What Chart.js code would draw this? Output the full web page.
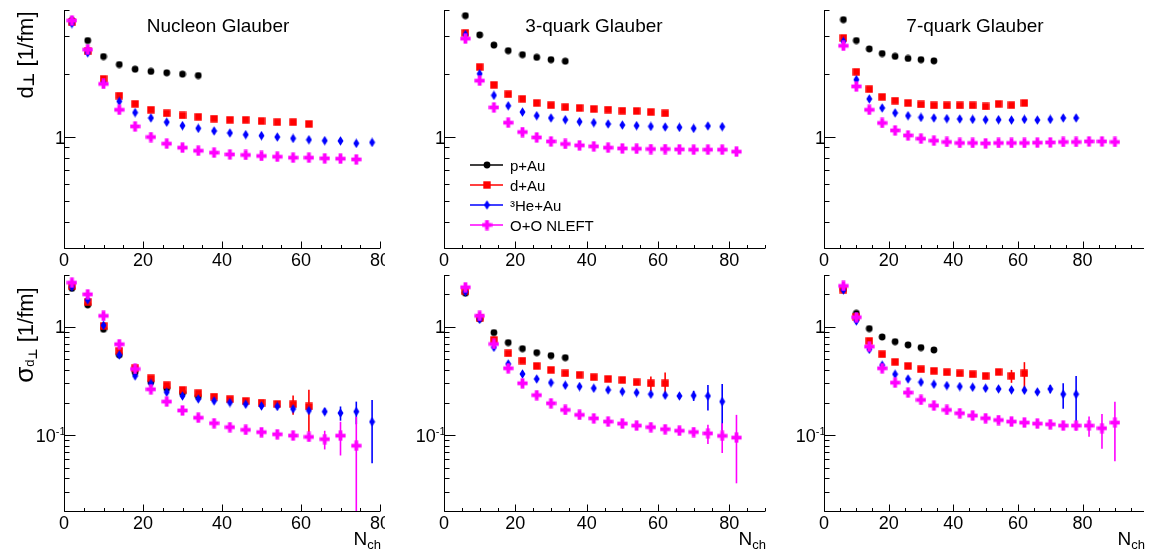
<!DOCTYPE html>
<html><head><meta charset="utf-8">
<script src="https://cdn.jsdelivr.net/npm/chart.js@4/dist/chart.umd.min.js"></script>
<style>
html,body{margin:0;padding:0;background:#fff;}
body{width:1149px;height:550px;position:relative;overflow:hidden;}
.pw{position:absolute;background:#fff;}
.pw canvas{display:block;}
</style></head><body>
<div class="pw" style="left:0px;top:0px;"><canvas id="c1" width="385" height="267"></canvas></div>
<div class="pw" style="left:385px;top:0px;"><canvas id="c2" width="385" height="267"></canvas></div>
<div class="pw" style="left:770px;top:0px;"><canvas id="c3" width="379" height="267"></canvas></div>
<div class="pw" style="left:0px;top:267px;"><canvas id="c4" width="385" height="283"></canvas></div>
<div class="pw" style="left:385px;top:267px;"><canvas id="c5" width="385" height="283"></canvas></div>
<div class="pw" style="left:770px;top:267px;"><canvas id="c6" width="379" height="283"></canvas></div>
<script>
// ---------------- data ----------------
const seriesNames = ['p+Au', 'd+Au', '\u00B3He+Au', 'O+O NLEFT'];
const seriesColors = ['#000000', '#ff0000', '#0000ff', '#ff00ff'];
const panelTitles = ['Nucleon Glauber', '3-quark Glauber', '7-quark Glauber'];
const xTickValues = [0, 20, 40, 60, 80];
const xTickLabels = ['0', '20', '40', '60', '80'];
const xAxisMax = [80, 90, 99];
const topYRange = [0.3, 4];
const bottomYRange = [0.02, 3];
const topYTickValues = [1];
const topYTickLabels = ['1'];
const bottomYTickValues = [1, 0.1];
const bottomYTickLabels = ['1', '10^{-1}'];

// N_ch bin centres
const nchNucleonPAu = [2, 6, 10, 14, 18, 22, 26, 30, 34];
const nchNucleonDAu = [2, 6, 10, 14, 18, 22, 26, 30, 34, 38, 42, 46, 50, 54, 58, 62];
const nchNucleonHeAu = [2, 6, 10, 14, 18, 22, 26, 30, 34, 38, 42, 46, 50, 54, 58, 62, 66, 70, 74, 78];
const nchNucleonOO = [2, 6, 10, 14, 18, 22, 26, 30, 34, 38, 42, 46, 50, 54, 58, 62, 66, 70, 74];
const nchQuarkPAu = [6, 10, 14, 18, 22, 26, 30, 34];
const nchQuarkDAu = [6, 10, 14, 18, 22, 26, 30, 34, 38, 42, 46, 50, 54, 58, 62];
const nchQuarkHeAu = [6, 10, 14, 18, 22, 26, 30, 34, 38, 42, 46, 50, 54, 58, 62, 66, 70, 74, 78];
const nch3QuarkOO = [6, 10, 14, 18, 22, 26, 30, 34, 38, 42, 46, 50, 54, 58, 62, 66, 70, 74, 78, 82];
const nch7QuarkOO = [6, 10, 14, 18, 22, 26, 30, 34, 38, 42, 46, 50, 54, 58, 62, 66, 70, 74, 78, 82, 86, 90];

// d_perp  (top row)
const dPerpNucleonPAu = [3.57, 2.87, 2.41, 2.21, 2.10, 2.05, 2.02, 1.99, 1.96];
const dPerpNucleonDAu = [3.50, 2.55, 1.89, 1.575, 1.44, 1.35, 1.30, 1.27, 1.25, 1.226, 1.21, 1.21, 1.195, 1.18, 1.18, 1.157];
const dPerpNucleonHeAu = [3.45, 2.51, 1.81, 1.48, 1.31, 1.235, 1.18, 1.136, 1.103, 1.072, 1.049, 1.03, 1.019, 1.004, 0.989, 0.975, 0.965, 0.962, 0.937, 0.947];
const dPerpNucleonOO = [3.57, 2.60, 1.79, 1.35, 1.127, 1.004, 0.934, 0.894, 0.865, 0.847, 0.831, 0.826, 0.817, 0.810, 0.802, 0.802, 0.796, 0.793, 0.787];

const dPerp3QuarkPAu = [3.76, 3.05, 2.73, 2.57, 2.46, 2.39, 2.33, 2.29];
const dPerp3QuarkDAu = [3.12, 2.15, 1.77, 1.60, 1.52, 1.454, 1.42, 1.39, 1.377, 1.362, 1.352, 1.337, 1.333, 1.318, 1.30];
const dPerp3QuarkHeAu = [3.06, 2.0, 1.58, 1.41, 1.318, 1.266, 1.235, 1.212, 1.186, 1.174, 1.157, 1.144, 1.136, 1.127, 1.12, 1.115, 1.103, 1.132, 1.124];
const dPerp3QuarkOO = [2.93, 1.854, 1.386, 1.174, 1.06, 1.0, 0.957, 0.931, 0.917, 0.907, 0.894, 0.887, 0.884, 0.881, 0.881, 0.878, 0.875, 0.875, 0.875, 0.856];

const dPerp7QuarkPAu = [3.60, 2.87, 2.62, 2.49, 2.415, 2.36, 2.33, 2.30];
const dPerp7QuarkDAu = [2.95, 2.04, 1.69, 1.553, 1.49, 1.454, 1.432, 1.417, 1.417, 1.417, 1.417, 1.40, 1.439, 1.42, 1.454];
const dPerp7QuarkHeAu = [2.84, 1.874, 1.52, 1.377, 1.305, 1.266, 1.243, 1.235, 1.226, 1.222, 1.217, 1.212, 1.212, 1.208, 1.217, 1.208, 1.217, 1.235, 1.235];
const dPerp7QuarkOO = [2.71, 1.742, 1.35, 1.17, 1.079, 1.022, 0.986, 0.965, 0.951, 0.941, 0.941, 0.937, 0.941, 0.941, 0.941, 0.944, 0.947, 0.951, 0.951, 0.957, 0.957, 0.951];

// sigma_{d_perp}  (bottom row) and its errors
const sigmaNucleonPAu = [2.26, 1.59, 0.948, 0.55, 0.38, 0.31, 0.27, 0.245, 0.228];
const sigmaErrNucleonPAu = [0.01, 0.008, 0.005, 0.004, 0.004, 0.004, 0.005, 0.006, 0.008];
const sigmaNucleonDAu = [2.38, 1.70, 1.017, 0.598, 0.414, 0.335, 0.289, 0.262, 0.244, 0.227, 0.215, 0.207, 0.200, 0.194, 0.193, 0.184];
const sigmaErrNucleonDAu = [0.01, 0.008, 0.005, 0.003, 0.003, 0.003, 0.003, 0.004, 0.004, 0.005, 0.006, 0.007, 0.009, 0.012, 0.039, 0.078];
const sigmaNucleonHeAu = [2.33, 1.77, 1.03, 0.55, 0.352, 0.30, 0.249, 0.230, 0.216, 0.207, 0.200, 0.193, 0.186, 0.184, 0.175, 0.169, 0.165, 0.160, 0.165, 0.133];
const sigmaErrNucleonHeAu = [0.01, 0.008, 0.005, 0.003, 0.003, 0.003, 0.003, 0.003, 0.003, 0.004, 0.004, 0.005, 0.006, 0.007, 0.008, 0.010, 0.012, 0.024, 0.039, 0.078];
const sigmaNucleonOO = [2.55, 1.99, 1.26, 0.69, 0.408, 0.265, 0.204, 0.169, 0.145, 0.129, 0.1186, 0.112, 0.1066, 0.102, 0.0992, 0.0964, 0.0919, 0.099, 0.080];
const sigmaErrNucleonOO = [0.01, 0.008, 0.005, 0.003, 0.002, 0.002, 0.002, 0.002, 0.002, 0.002, 0.002, 0.002, 0.003, 0.003, 0.005, 0.008, 0.018, 0.034, 0.068];

const sigma3QuarkPAu = [2.04, 1.18, 0.883, 0.714, 0.628, 0.577, 0.542, 0.519];
const sigmaErr3QuarkPAu = [0.01, 0.006, 0.005, 0.004, 0.004, 0.005, 0.006, 0.008];
const sigma3QuarkDAu = [2.15, 1.21, 0.755, 0.569, 0.487, 0.435, 0.40, 0.3725, 0.36, 0.343, 0.330, 0.323, 0.308, 0.301, 0.301];
const sigmaErr3QuarkDAu = [0.01, 0.006, 0.004, 0.004, 0.004, 0.004, 0.004, 0.005, 0.005, 0.006, 0.008, 0.010, 0.015, 0.046, 0.077];
const sigma3QuarkHeAu = [2.1, 1.17, 0.647, 0.454, 0.367, 0.33, 0.305, 0.289, 0.281, 0.271, 0.2616, 0.2523, 0.247, 0.2386, 0.2337, 0.230, 0.232, 0.230, 0.204];
const sigmaErr3QuarkHeAu = [0.01, 0.006, 0.004, 0.003, 0.003, 0.003, 0.003, 0.003, 0.004, 0.004, 0.005, 0.005, 0.006, 0.008, 0.010, 0.012, 0.025, 0.061, 0.093];
const sigma3QuarkOO = [2.31, 1.26, 0.694, 0.414, 0.301, 0.234, 0.197, 0.171, 0.154, 0.143, 0.1334, 0.128, 0.1226, 0.1186, 0.1136, 0.110, 0.107, 0.104, 0.0986, 0.095];
const sigmaErr3QuarkOO = [0.01, 0.006, 0.004, 0.003, 0.002, 0.002, 0.002, 0.002, 0.002, 0.002, 0.002, 0.002, 0.003, 0.003, 0.004, 0.005, 0.008, 0.021, 0.030, 0.059];

const sigma7QuarkPAu = [2.22, 1.33, 0.961, 0.805, 0.729, 0.68, 0.642, 0.611];
const sigmaErr7QuarkPAu = [0.01, 0.006, 0.005, 0.004, 0.004, 0.005, 0.006, 0.008];
const sigma7QuarkDAu = [2.2, 1.24, 0.74, 0.558, 0.474, 0.435, 0.406, 0.392, 0.381, 0.3725, 0.365, 0.352, 0.383, 0.352, 0.3725];
const sigmaErr7QuarkDAu = [0.01, 0.006, 0.004, 0.004, 0.004, 0.004, 0.004, 0.005, 0.005, 0.006, 0.008, 0.010, 0.020, 0.048, 0.099];
const sigma7QuarkHeAu = [2.18, 1.13, 0.62, 0.442, 0.365, 0.33, 0.308, 0.295, 0.2866, 0.281, 0.277, 0.271, 0.2673, 0.2616, 0.26, 0.2506, 0.267, 0.2386, 0.2386];
const sigmaErr7QuarkHeAu = [0.01, 0.006, 0.004, 0.003, 0.003, 0.003, 0.003, 0.003, 0.004, 0.004, 0.005, 0.005, 0.006, 0.008, 0.015, 0.012, 0.024, 0.063, 0.113];
const sigma7QuarkOO = [2.38, 1.224, 0.656, 0.414, 0.305, 0.247, 0.2115, 0.1875, 0.171, 0.1595, 0.1517, 0.1434, 0.138, 0.1334, 0.1306, 0.128, 0.126, 0.1226, 0.1226, 0.1226, 0.116, 0.1306];
const sigmaErr7QuarkOO = [0.01, 0.006, 0.004, 0.003, 0.002, 0.002, 0.002, 0.002, 0.002, 0.002, 0.002, 0.002, 0.003, 0.003, 0.003, 0.004, 0.005, 0.006, 0.012, 0.026, 0.041, 0.073];

// ---------------- rendering ----------------
const FONT = '"Liberation Sans", Arial, Helvetica, sans-serif';

function makeMarker(kind, color) {
  const c = document.createElement('canvas');
  const g = c.getContext('2d');
  g.fillStyle = color;
  if (kind === 'circle') {
    c.width = 8; c.height = 8; g.fillStyle = color;
    g.beginPath(); g.arc(4, 4, 3.4, 0, 2 * Math.PI); g.fill();
  } else if (kind === 'square') {
    c.width = 8; c.height = 8; g.fillStyle = color;
    g.fillRect(0.3, 0.3, 7.4, 7.4);
  } else if (kind === 'diamond') {
    c.width = 7; c.height = 10; g.fillStyle = color;
    g.beginPath(); g.moveTo(3.5, 0.2); g.lineTo(6.5, 5); g.lineTo(3.5, 9.8); g.lineTo(0.5, 5); g.closePath(); g.fill();
  } else {
    c.width = 11; c.height = 11; g.fillStyle = color;
    g.fillRect(3.6, 0.4, 3.8, 10.2); g.fillRect(0.4, 3.6, 10.2, 3.8);
  }
  return c;
}
const markers = [
  makeMarker('circle', seriesColors[0]),
  makeMarker('square', seriesColors[1]),
  makeMarker('diamond', seriesColors[2]),
  makeMarker('cross', seriesColors[3])
];

function series(k, xs, ys, errs) {
  return {
    label: seriesNames[k],
    data: xs.map((x, i) => ({ x: x, y: ys[i] })),
    errors: errs || null,
    pointStyle: markers[k],
    pointRadius: 5,
    pointBorderWidth: 0,
    borderColor: seriesColors[k],
    backgroundColor: seriesColors[k],
    showLine: false,
    order: 4 - k
  };
}

const errorBarPlugin = {
  id: 'errorBars',
  beforeDatasetDraw(chart, args) {
    const ds = chart.data.datasets[args.index];
    if (!ds.errors) return;
    const { ctx, chartArea: a, scales: { x, y } } = chart;
    ctx.save();
    ctx.strokeStyle = ds.borderColor;
    ctx.lineWidth = 1.6;
    ds.data.forEach((p, i) => {
      const e = ds.errors[i];
      if (!e) return;
      const px = x.getPixelForValue(p.x);
      const lo = Math.max(p.y - e, y.min);
      let y1 = y.getPixelForValue(p.y + e);
      let y2 = y.getPixelForValue(lo);
      y1 = Math.max(y1, a.top); y2 = Math.min(y2, a.bottom);
      ctx.beginPath(); ctx.moveTo(px, y1); ctx.lineTo(px, y2); ctx.stroke();
    });
    ctx.restore();
  }
};

function drawPieces(ctx, pieces, cx, cy) {
  // rotated text, reading bottom-to-top, baseline at local y = 0
  ctx.save();
  ctx.translate(cx, cy);
  ctx.rotate(-Math.PI / 2);
  let total = 0;
  pieces.forEach(p => { ctx.font = p.f; p.w = ctx.measureText(p.t).width; total += p.w; });
  let xx = -total / 2;
  ctx.textAlign = 'left'; ctx.textBaseline = 'alphabetic'; ctx.fillStyle = '#000';
  pieces.forEach(p => { ctx.font = p.f; ctx.fillText(p.t, xx, p.dy || 0); xx += p.w; });
  ctx.restore();
}

const rootFramePlugin = {
  id: 'rootFrame',
  afterDraw(chart, args, o) {
    const { ctx, chartArea: a, scales: { x, y } } = chart;
    ctx.save();
    ctx.strokeStyle = '#000'; ctx.fillStyle = '#000'; ctx.lineWidth = 1;
    const L = Math.round(a.left) + 0.5, B = Math.round(a.bottom) + 0.5;
    ctx.beginPath(); ctx.moveTo(L, a.top); ctx.lineTo(L, B); ctx.lineTo(a.right, B); ctx.stroke();
    // x ticks (inside)
    ctx.beginPath();
    for (let v = 0; v <= x.max + 1e-9; v += 5) {
      const px = Math.round(x.getPixelForValue(v)) + 0.5;
      const len = xTickValues.includes(v) ? 7 : 3.5;
      ctx.moveTo(px, B); ctx.lineTo(px, B - len);
    }
    // y ticks (inside, log)
    [0.01, 0.1, 1].forEach(d => {
      for (let m = 1; m <= 9; m++) {
        const v = m * d;
        if (v < y.min * 0.999 || v > y.max * 1.001) continue;
        const py = Math.round(y.getPixelForValue(v)) + 0.5;
        ctx.moveTo(L, py); ctx.lineTo(L + (m === 1 ? 11 : 5), py);
      }
    });
    ctx.stroke();
    // x labels
    ctx.font = '18px ' + FONT; ctx.textAlign = 'center'; ctx.textBaseline = 'alphabetic';
    xTickValues.forEach((v, i) => {
      if (v > x.max) return;
      ctx.fillText(xTickLabels[i], x.getPixelForValue(v), a.bottom + 17.5);
    });
    // y labels
    o.yTickValues.forEach((v, i) => {
      const lab = o.yTickLabels[i];
      const py = y.getPixelForValue(v);
      const m = lab.match(/^(.*)\^\{(.*)\}$/);
      if (m) {
        ctx.font = '11px ' + FONT;
        const ew = ctx.measureText(m[2]).width;
        ctx.textAlign = 'left';
        ctx.fillText(m[2], L + 1 - ew, py - 0.5);
        ctx.font = '18px ' + FONT; ctx.textAlign = 'right';
        ctx.fillText(m[1], L + 1 - ew, py + 6.5);
      } else {
        ctx.font = '18px ' + FONT; ctx.textAlign = 'right';
        ctx.fillText(lab, L + 0.5, py + 6.5);
      }
    });
    // panel title
    if (o.title) {
      ctx.font = '19px ' + FONT; ctx.textAlign = 'center';
      ctx.fillText(o.title, o.titleX, 31.5);
    }
    // x-axis title N_ch
    if (o.xTitle) {
      ctx.textAlign = 'right';
      ctx.font = '13px ' + FONT;
      const cw = ctx.measureText('ch').width;
      ctx.fillText('ch', a.right + 1, a.bottom + 38);
      ctx.font = '19px ' + FONT;
      ctx.fillText('N', a.right + 1 - cw, a.bottom + 34);
    }
    // y-axis title
    if (o.yTitle === 'd') {
      drawPieces(ctx, [
        { t: 'd', f: '22px ' + FONT },
        { t: '\u22A5', f: 'bold 15px "DejaVu Sans", ' + FONT, dy: 1 },
        { t: ' [1/fm]', f: '22px ' + FONT }
      ], 33, 55);
    } else if (o.yTitle === 'sigma') {
      drawPieces(ctx, [
        { t: '\u03C3', f: '26px ' + FONT },
        { t: 'd', f: '13px ' + FONT, dy: 1 },
        { t: '\u22A5', f: 'bold 12px "DejaVu Sans", ' + FONT, dy: 4 },
        { t: ' [1/fm]', f: '22px ' + FONT }
      ], 33, 68);
    }
    // legend
    if (o.legend) {
      const rows = [165, 185, 205, 225];
      chart.data.datasets.forEach((ds, k) => {
        const ry = rows[k];
        ctx.strokeStyle = ds.borderColor; ctx.lineWidth = 1.5;
        ctx.beginPath(); ctx.moveTo(85, ry); ctx.lineTo(118, ry); ctx.stroke();
        const img = ds.pointStyle;
        ctx.drawImage(img, 102 - img.width / 2, ry - img.height / 2);
        ctx.fillStyle = '#000'; ctx.font = '15px ' + FONT; ctx.textAlign = 'left';
        ctx.fillText(ds.label, 125, ry + 5.5);
      });
    }
    ctx.restore();
  }
};

const panels = [
  { id: 'c1', col: 0, row: 0, sets: [[nchNucleonPAu, dPerpNucleonPAu], [nchNucleonDAu, dPerpNucleonDAu], [nchNucleonHeAu, dPerpNucleonHeAu], [nchNucleonOO, dPerpNucleonOO]] },
  { id: 'c2', col: 1, row: 0, sets: [[nchQuarkPAu, dPerp3QuarkPAu], [nchQuarkDAu, dPerp3QuarkDAu], [nchQuarkHeAu, dPerp3QuarkHeAu], [nch3QuarkOO, dPerp3QuarkOO]] },
  { id: 'c3', col: 2, row: 0, sets: [[nchQuarkPAu, dPerp7QuarkPAu], [nchQuarkDAu, dPerp7QuarkDAu], [nchQuarkHeAu, dPerp7QuarkHeAu], [nch7QuarkOO, dPerp7QuarkOO]] },
  { id: 'c4', col: 0, row: 1, sets: [[nchNucleonPAu, sigmaNucleonPAu, sigmaErrNucleonPAu], [nchNucleonDAu, sigmaNucleonDAu, sigmaErrNucleonDAu], [nchNucleonHeAu, sigmaNucleonHeAu, sigmaErrNucleonHeAu], [nchNucleonOO, sigmaNucleonOO, sigmaErrNucleonOO]] },
  { id: 'c5', col: 1, row: 1, sets: [[nchQuarkPAu, sigma3QuarkPAu, sigmaErr3QuarkPAu], [nchQuarkDAu, sigma3QuarkDAu, sigmaErr3QuarkDAu], [nchQuarkHeAu, sigma3QuarkHeAu, sigmaErr3QuarkHeAu], [nch3QuarkOO, sigma3QuarkOO, sigmaErr3QuarkOO]] },
  { id: 'c6', col: 2, row: 1, sets: [[nchQuarkPAu, sigma7QuarkPAu, sigmaErr7QuarkPAu], [nchQuarkDAu, sigma7QuarkDAu, sigmaErr7QuarkDAu], [nchQuarkHeAu, sigma7QuarkHeAu, sigmaErr7QuarkHeAu], [nch7QuarkOO, sigma7QuarkOO, sigmaErr7QuarkOO]] }
];

const colPad = [{ left: 64, right: 2 }, { left: 59, right: 3 }, { left: 54, right: 2 }];
const rowPad = [{ top: 10, bottom: 19 }, { top: 8, bottom: 39 }];
const titleX = [218, 209, 205];

panels.forEach(p => {
  const yr = p.row === 0 ? topYRange : bottomYRange;
  new Chart(document.getElementById(p.id), {
    type: 'scatter',
    data: { datasets: p.sets.map((s, k) => series(k, s[0], s[1], s[2])) },
    options: {
      responsive: false, animation: false, devicePixelRatio: 1, events: [],
      layout: { padding: { left: colPad[p.col].left, right: colPad[p.col].right, top: rowPad[p.row].top, bottom: rowPad[p.row].bottom } },
      scales: {
        x: { type: 'linear', min: 0, max: xAxisMax[p.col], display: false },
        y: { type: 'logarithmic', min: yr[0], max: yr[1], display: false }
      },
      plugins: {
        legend: { display: false },
        tooltip: { enabled: false },
        rootFrame: {
          title: p.row === 0 ? panelTitles[p.col] : null,
          titleX: titleX[p.col],
          xTitle: p.row === 1,
          legend: p.row === 0 && p.col === 1,
          yTitle: p.col === 0 ? (p.row === 0 ? 'd' : 'sigma') : null,
          yTickValues: p.row === 0 ? topYTickValues : bottomYTickValues,
          yTickLabels: p.row === 0 ? topYTickLabels : bottomYTickLabels
        }
      }
    },
    plugins: [errorBarPlugin, rootFramePlugin]
  });
});
</script>
</body></html>
